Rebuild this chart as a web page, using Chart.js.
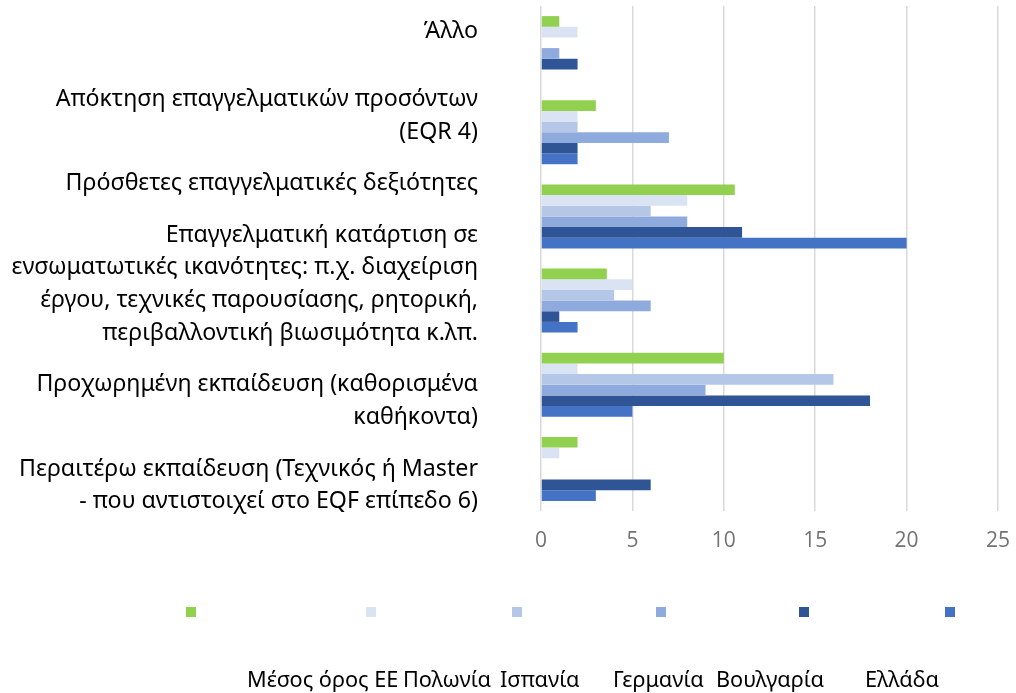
<!DOCTYPE html>
<html>
<head>
<meta charset="utf-8">
<script src="https://cdn.jsdelivr.net/npm/chart.js@4"></script>
<style>
  html, body { margin: 0; padding: 0; background: #fff; }
  #wrap { width: 1016px; height: 693px; position: relative; }
</style>
</head>
<body>
<div id="wrap"><canvas id="chart" width="1016" height="693"></canvas></div>
<script>
// categories, top to bottom
const categories = [
  'Άλλο',
  ['Απόκτηση επαγγελματικών προσόντων', '(EQR 4)'],
  'Πρόσθετες επαγγελματικές δεξιότητες',
  ['Επαγγελματική κατάρτιση σε', 'ενσωματωτικές ικανότητες: π.χ. διαχείριση', 'έργου, τεχνικές παρουσίασης, ρητορική,', 'περιβαλλοντική βιωσιμότητα κ.λπ.'],
  ['Προχωρημένη εκπαίδευση (καθορισμένα', 'καθήκοντα)'],
  ['Περαιτέρω εκπαίδευση (Τεχνικός ή Master', '- που αντιστοιχεί στο EQF επίπεδο 6)']
];

const seriesNames = ['Μέσος όρος ΕΕ', 'Πολωνία', 'Ισπανία', 'Γερμανία', 'Βουλγαρία', 'Ελλάδα'];

const euAverage = [1, 3, 10.6, 3.6, 10, 2];
const poland    = [2, 2, 8, 5, 2, 1];
const spain     = [0, 2, 6, 4, 16, 0];
const germany   = [1, 7, 8, 6, 9, 0];
const bulgaria  = [2, 2, 11, 1, 18, 6];
const greece    = [0, 2, 20, 2, 5, 3];

const xTicks = [0, 5, 10, 15, 20, 25];

const colors = ['#92D050', '#DAE3F3', '#B4C7E7', '#8FAADC', '#2F5597', '#4472C4'];
const seriesValues = [euAverage, poland, spain, germany, bulgaria, greece];

// in the original the category labels sit off-centre from their bars;
// each step moves a label by half a line (negative = up)
const labelNudge = [-1, -1, -2, -1, 1, 1];

// legend: squares in a row, names in a separate line below (as in the original)
const legendBoxX = [191, 371, 517, 661, 804, 950];
const legendTextX = [247, 403, 500, 613, 716, 865];

const splitLegend = {
  id: 'splitLegend',
  afterDraw(chart) {
    const ctx = chart.ctx;
    ctx.save();
    chart.data.datasets.forEach((ds, i) => {
      ctx.fillStyle = ds.backgroundColor;
      ctx.fillRect(legendBoxX[i] - 5, 607, 10, 10);
    });
    ctx.fillStyle = '#000';
    ctx.font = '21.7px "Noto Sans", sans-serif';
    ctx.textAlign = 'left';
    ctx.textBaseline = 'alphabetic';
    chart.data.datasets.forEach((ds, i) => {
      ctx.fillText(ds.label, legendTextX[i], 687);
    });
    ctx.restore();
  }
};

new Chart(document.getElementById('chart'), {
  type: 'bar',
  data: {
    labels: categories,
    datasets: seriesNames.map((name, i) => ({
      label: name,
      data: seriesValues[i],
      backgroundColor: colors[i],
      borderWidth: 0,
      categoryPercentage: 0.76,
      barPercentage: 1
    }))
  },
  options: {
    indexAxis: 'y',
    responsive: false,
    animation: false,
    layout: { padding: { top: 6, right: 18, left: 0, bottom: 0 } },
    plugins: {
      legend: { display: false },
      tooltip: { enabled: false }
    },
    scales: {
      x: {
        min: 0,
        max: 25,
        afterBuildTicks: s => { s.ticks = xTicks.map(v => ({ value: v })); },
        afterFit: s => { s.height = 182; s.paddingLeft = 0; s.paddingRight = 0; },
        grid: { color: '#d9d9d9', lineWidth: 1.5, drawTicks: false },
        border: { display: false },
        ticks: {
          padding: 17,
          color: '#737373',
          font: { family: '"Open Sans", sans-serif', size: 21 }
        }
      },
      y: {
        afterFit: s => { s.width = 541; s.paddingTop = 0; s.paddingBottom = 0; },
        grid: { display: false, drawTicks: false },
        border: { display: false },
        ticks: {
          padding: 63,
          color: '#000',
          autoSkip: false,
          callback: (v, i) => {
            const lines = [].concat(categories[i]);
            const pad = new Array(Math.abs(labelNudge[i])).fill('');
            return labelNudge[i] < 0 ? [...lines, ...pad] : [...pad, ...lines];
          },
          font: { family: '"Noto Sans", sans-serif', size: 23.2, lineHeight: 1.41 }
        }
      }
    }
  },
  plugins: [splitLegend]
});
</script>
</body>
</html>
